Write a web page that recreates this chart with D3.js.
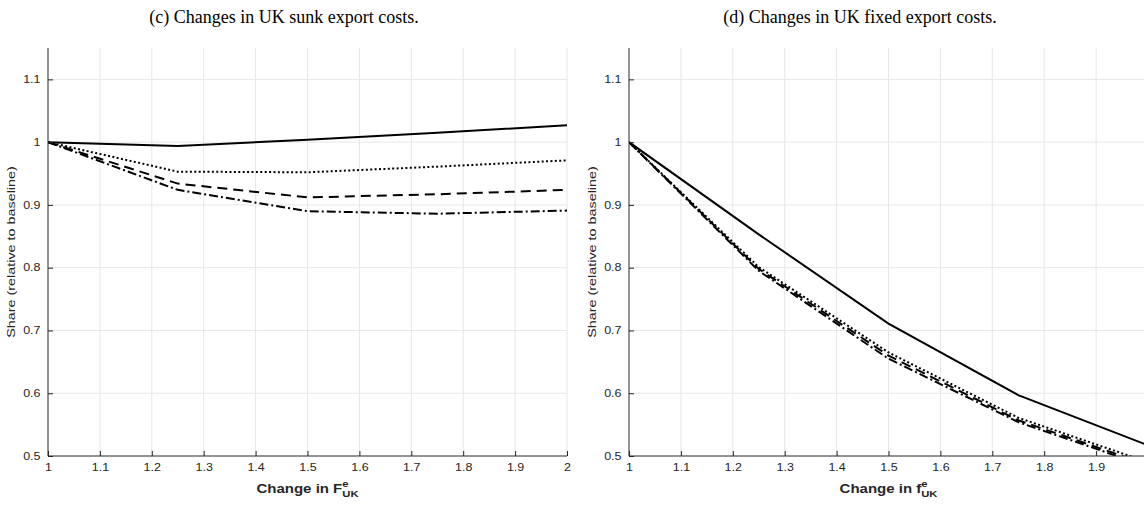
<!DOCTYPE html>
<html>
<head>
<meta charset="utf-8">
<script src="https://cdn.jsdelivr.net/npm/d3@7"></script>
<style>
  body { margin: 0; background: #fff; }
  svg { display: block; }
</style>
</head>
<body>
<div id="chart"></div>
<script>
// x values (change factor)
const xVals = [1, 1.25, 1.5, 1.75, 2];

// (c) sunk export costs
const sunkSolid   = [1, 0.994, 1.004, 1.015, 1.027];
const sunkDotted  = [1, 0.953, 0.952, 0.961, 0.971];
const sunkDashed  = [1, 0.934, 0.912, 0.917, 0.924];
const sunkDashDot = [1, 0.924, 0.890, 0.886, 0.891];

// (d) fixed export costs
const fixedSolid   = [1, 0.853, 0.711, 0.597, 0.517];
const fixedDotted  = [1, 0.801, 0.665, 0.561, 0.490];
const fixedDashed  = [1, 0.798, 0.660, 0.557, 0.486];
const fixedDashDot = [1, 0.795, 0.655, 0.554, 0.483];

const xTicks = [1, 1.1, 1.2, 1.3, 1.4, 1.5, 1.6, 1.7, 1.8, 1.9, 2];
const yTicks = [0.5, 0.6, 0.7, 0.8, 0.9, 1, 1.1];

const width = 1144, height = 506;
const axisColor = "#262626";
const gridColor = "#e6e6e6";
const sans = "'Liberation Sans', Arial, sans-serif";
const stretch = 1.25; // axis text in the figure is drawn wide

const svg = d3.select("#chart")
  .append("svg")
  .attr("width", width)
  .attr("height", height);

// line styles: solid, dotted, dashed, dash-dot
const styles = [null, "2 2.4", "10 6", "9 3 2 3"];

const drawPanel = (opts) => {
  const { left, right, top, bottom, title, titleX, sym, series, id } = opts;

  const x = d3.scaleLinear().domain([1, 2]).range([left, right]);
  const y = d3.scaleLinear().domain([0.5, 1.15]).range([bottom, top]);

  const g = svg.append("g");

  // grid
  g.selectAll(".xgrid")
    .data(xTicks.slice(1))
    .join("line")
    .attr("x1", d => x(d)).attr("x2", d => x(d))
    .attr("y1", top).attr("y2", bottom)
    .attr("stroke", gridColor).attr("stroke-width", 1);

  g.selectAll(".ygrid")
    .data(yTicks.slice(1))
    .join("line")
    .attr("x1", left).attr("x2", right)
    .attr("y1", d => y(d)).attr("y2", d => y(d))
    .attr("stroke", gridColor).attr("stroke-width", 1);

  // clip lines to the axes box
  svg.append("clipPath").attr("id", id)
    .append("rect")
    .attr("x", left).attr("y", top)
    .attr("width", right - left).attr("height", bottom - top);

  const line = d3.line()
    .x((d, i) => x(xVals[i]))
    .y(d => y(d));

  g.append("g")
    .attr("clip-path", `url(#${id})`)
    .selectAll("path")
    .data(series)
    .join("path")
    .attr("d", d => line(d))
    .attr("fill", "none")
    .attr("stroke", "#000")
    .attr("stroke-width", 2)
    .attr("stroke-dasharray", (d, i) => styles[i]);

  // axes (ticks inside, MATLAB style)
  const fmt = d => d3.format("")(+d.toFixed(1));
  const xAxis = d3.axisBottom(x).tickValues(xTicks).tickSize(-5).tickPadding(8).tickFormat(fmt);
  const yAxis = d3.axisLeft(y).tickValues(yTicks).tickSize(-5).tickPadding(6).tickFormat(fmt);

  const styleAxis = sel => {
    sel.select(".domain").attr("stroke", axisColor).attr("stroke-width", 1);
    sel.selectAll(".tick line").attr("stroke", axisColor);
    sel.selectAll(".tick text")
      .attr("fill", axisColor)
      .attr("transform", `scale(${stretch},1)`)
      .style("font-family", sans)
      .style("font-size", "10px");
  };

  g.append("g")
    .attr("transform", `translate(0,${bottom})`)
    .call(xAxis)
    .call(g => g.select(".domain").attr("d", `M${left},0H${right}`))
    .call(styleAxis)
    .call(g => g.selectAll(".tick text").style("display", d => x(d) > width - 4 ? "none" : null));

  g.append("g")
    .attr("transform", `translate(${left},0)`)
    .call(yAxis)
    .call(g => g.select(".domain").attr("d", `M0,${top}V${bottom}`))
    .call(styleAxis);

  // x label with F^e_UK
  const xl = g.append("text")
    .attr("transform", `translate(${(left + right) / 2},${bottom + 37}) scale(${stretch},1)`)
    .attr("text-anchor", "middle")
    .attr("fill", axisColor)
    .style("font-family", sans)
    .style("font-size", "12px")
    .style("font-weight", "bold");
  xl.append("tspan").text(`Change in ${sym}`);
  xl.append("tspan").attr("dy", -6).style("font-size", "9px").text("e");
  xl.append("tspan").attr("dx", -5).attr("dy", 10).style("font-size", "9px").text("UK");

  // y label
  g.append("text")
    .attr("transform", `translate(${left - 33},${(top + bottom) / 2}) rotate(-90) scale(${stretch},1)`)
    .attr("text-anchor", "middle")
    .attr("fill", axisColor)
    .style("font-family", sans)
    .style("font-size", "11.5px")
    .text("Share (relative to baseline)");

  // panel caption
  svg.append("text")
    .attr("x", titleX)
    .attr("y", 23)
    .attr("text-anchor", "middle")
    .attr("fill", "#000")
    .style("font-family", "'Liberation Serif', 'DejaVu Serif', serif")
    .style("font-size", "18px")
    .text(title);
};

drawPanel({
  id: "clipC", left: 48, right: 567, top: 48, bottom: 456,
  title: "(c) Changes in UK sunk export costs.", titleX: 284, sym: "F",
  series: [sunkSolid, sunkDotted, sunkDashed, sunkDashDot]
});

drawPanel({
  id: "clipD", left: 629, right: 1148, top: 48, bottom: 456,
  title: "(d) Changes in UK fixed export costs.", titleX: 860, sym: "f",
  series: [fixedSolid, fixedDotted, fixedDashed, fixedDashDot]
});
</script>
</body>
</html>
